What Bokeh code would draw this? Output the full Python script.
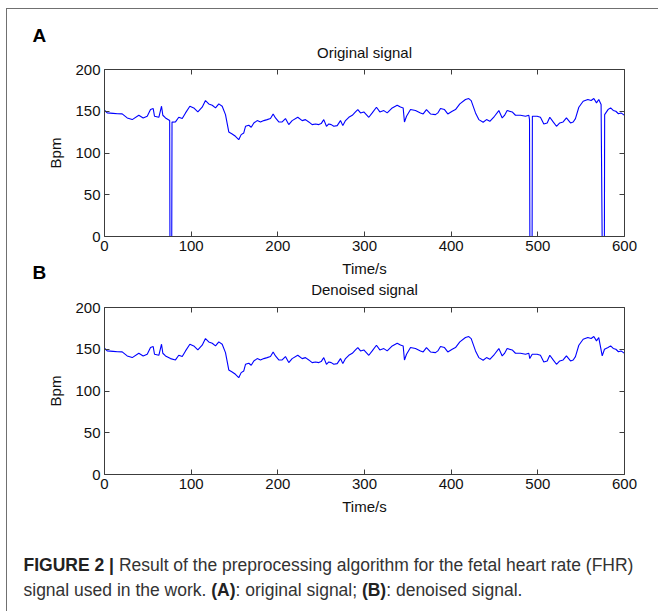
from bokeh.plotting import figure
from bokeh.models import Range1d, LinearAxis, FixedTicker
from bokeh.embed import file_html
from bokeh.resources import INLINE
from bokeh.core.properties import value

# ---------------- data ----------------
den_t = [0, 3.1, 10, 15, 20.4, 26.2, 32, 39.6, 44.6, 49.3, 53.1, 56.2, 57.7, 62.7, 65.8, 67.3,
         70.4, 76.2, 81.9, 85.7, 89.7, 93.5, 98.5, 103, 107.7, 112.7, 116.5, 120.3, 124.3, 128.1,
         131.9, 135.8, 139.6, 143.4, 147.3, 151.1, 154.9, 157.7, 160.7, 162.7, 166.5, 169.3, 172.3,
         176.2, 180, 183.8, 187.7, 191.5, 194.6, 197.3, 201.1, 205, 208.8, 212.6, 216.5, 223, 228.1,
         231.9, 235.7, 239.6, 243.5, 247.3, 250, 253, 256.1, 258.8, 261.6, 264.6, 268.5, 272.3, 275,
         278.1, 281.9, 285.9, 289.6, 292.3, 295.4, 299.2, 305, 308.9, 313.8, 317.7, 322.3, 326.2, 332,
         337.7, 341.5, 344.6, 346.1, 348.5, 353.1, 358.8, 364.6, 367.7, 371.5, 376.1, 381.9, 384.6,
         387.7, 392.3, 396.1, 401.2, 405, 410, 416.5, 420.3, 423.1, 428.1, 431.9, 436.9, 440.8, 444.6,
         450, 455, 458.9, 461.5, 464.6, 470.4, 474.2, 480, 485.8, 489.6, 490.7, 493.5, 499.2, 503,
         506.9, 510.8, 513.8, 517.7, 521.5, 525.3, 529.2, 533, 537.7, 540.8, 543.4, 547.3, 552.3,
         557.7, 561.5, 564.6, 567.7, 570.3, 574.3, 576.9, 581, 584, 587, 590, 593, 596, 600]
den_v = [151.2, 148, 147.5, 147, 146.8, 142, 140, 145.2, 142, 144, 152, 153.2, 144, 142.8, 156, 145.2,
         142, 138.8, 137.2, 142.8, 141.2, 148, 156, 154, 149.2, 154.8, 162.8, 158.8, 157.2, 154,
         158.8, 156, 146, 125.2, 122.8, 120, 116, 122, 124, 132, 133.2, 130.8, 136,
         138.8, 137.2, 138.8, 140, 141.2, 146.8, 142, 137.2, 137.2, 141.2, 134, 138.8, 142.8, 138.8,
         140, 137.2, 134, 134.8, 134, 135.2, 140, 132, 134.8, 134, 132, 132.8, 138.8, 132.8,
         138.8, 142.8, 145.2, 149.2, 152, 148, 149.2, 142.8, 148, 154.8, 149.2, 150.8, 148, 154,
         157.2, 155, 154, 137.2, 144, 152, 150.8, 148, 146.8, 152, 146.8, 146, 148,
         153.2, 152, 146.8, 150, 152, 158.8, 164, 165.2, 162.8, 148, 140, 136.8, 140, 138,
         144, 150.8, 142, 145, 150.8, 149.2, 145.2, 145.2, 144, 145.2, 138.8, 144, 144, 142.8,
         134.8, 136, 142.8, 137.2, 132, 136, 137.2, 142, 136, 137.2, 141.2, 154.8, 162,
         164, 162.8, 165.2, 160, 164, 142, 150, 152, 154, 151, 150, 147, 148, 145]

orig_t = [0, 3.1, 10, 15, 20.4, 26.2, 32, 39.6, 44.6, 49.3, 53.1, 56.2, 57.7, 62.7, 65.8, 67.3,
          70.4, 75.2, 75.5, 77.6, 77.9, 81.9, 85.7, 89.7, 93.5, 98.5, 103, 107.7, 112.7, 116.5, 120.3,
          124.3, 128.1, 131.9, 135.8, 139.6, 143.4, 147.3, 151.1, 154.9, 157.7, 160.7, 162.7, 166.5,
          169.3, 172.3, 176.2, 180, 183.8, 187.7, 191.5, 194.6, 197.3, 201.1, 205, 208.8, 212.6, 216.5,
          223, 228.1, 231.9, 235.7, 239.6, 243.5, 247.3, 250, 253, 256.1, 258.8, 261.6, 264.6, 268.5,
          272.3, 275, 278.1, 281.9, 285.9, 289.6, 292.3, 295.4, 299.2, 305, 308.9, 313.8, 317.7, 322.3,
          326.2, 332, 337.7, 341.5, 344.6, 346.1, 348.5, 353.1, 358.8, 364.6, 367.7, 371.5, 376.1,
          381.9, 384.6, 387.7, 392.3, 396.1, 401.2, 405, 410, 416.5, 420.3, 423.1, 428.1, 431.9, 436.9,
          440.8, 444.6, 450, 455, 458.9, 461.5, 464.6, 470.4, 474.2, 480, 485.8, 489.6, 490.4, 490.8,
          493.4, 493.7, 499.2, 503, 506.9, 510.8, 513.8, 517.7, 521.5, 525.3, 529.2, 533, 537.7, 540.8,
          543.4, 547.3, 552.3, 557.7, 561.5, 564.6, 567.7, 570.3, 573, 574.2, 576.8, 577.1, 581, 584,
          587, 590, 593, 596, 600]
orig_v = [151.2, 148, 147.5, 147, 146.8, 142, 140, 145.2, 142, 144, 152, 153.2, 144, 142.8, 156, 145.2,
          142, 139, 0, 0, 137, 137.2, 142.8, 141.2, 148, 156, 154, 149.2, 154.8, 162.8, 158.8,
          157.2, 154, 158.8, 156, 146, 125.2, 122.8, 120, 116, 122, 124, 132, 133.2,
          130.8, 136, 138.8, 137.2, 138.8, 140, 141.2, 146.8, 142, 137.2, 137.2, 141.2, 134, 138.8,
          142.8, 138.8, 140, 137.2, 134, 134.8, 134, 135.2, 140, 132, 134.8, 134, 132, 132.8,
          138.8, 132.8, 138.8, 142.8, 145.2, 149.2, 152, 148, 149.2, 142.8, 148, 154.8, 149.2, 150.8,
          148, 154, 157.2, 155, 154, 137.2, 144, 152, 150.8, 148, 146.8, 152, 146.8,
          146, 148, 153.2, 152, 146.8, 150, 152, 158.8, 164, 165.2, 162.8, 148, 140, 136.8,
          140, 138, 144, 150.8, 142, 145, 150.8, 149.2, 145.2, 145.2, 144, 145.2, 140, 0,
          0, 144, 144, 142.8, 134.8, 136, 142.8, 137.2, 132, 136, 137.2, 142, 136, 137.2,
          141.2, 154.8, 162, 164, 162.8, 165.2, 160, 164, 158, 0, 0, 146, 152, 154,
          151, 150, 147, 148, 145]

x_ticks = [0, 100, 200, 300, 400, 500, 600]
y_ticks = [0, 50, 100, 150, 200]
panel_titles = ["Original signal", "Denoised signal"]
panel_letters = ["A", "B"]
x_label = "Time/s"
y_label = "Bpm"

cap_bold_text = ["FIGURE 2 |", "(A)", "(B)"]
cap_reg_text = ["Result of the preprocessing algorithm for the fetal heart rate (FHR)",
                "signal used in the work.", ": original signal;", ": denoised signal."]

# ---------------- styling ----------------
FONT = "Liberation Sans"
AX = "#3c3c3c"
TXT = "#111111"
W = 652          # canvas width of every block (page x = canvas x + 7)
EDGE = "1px solid #707070"
SIDE_STYLE = {"margin-left": "6px", "border-left": EDGE}


def text_block(height, top=False):
    f = figure(width=W, height=height, x_range=Range1d(0, W), y_range=Range1d(height, 0),
               output_backend="svg", toolbar_location=None,
               min_border_left=0, min_border_right=0, min_border_top=0, min_border_bottom=0,
               x_axis_location=None, y_axis_location=None, title_location=None,
               outline_line_color=None)
    f.grid.visible = False
    st = dict(SIDE_STYLE)
    if top:
        st.update({"margin-top": "8px", "border-top": EDGE})
    f.styles = st
    return f


def panel(t, v, height, top, bottom, with_xlabel):
    p = figure(width=W, height=height, output_backend="svg", toolbar_location=None,
               x_range=Range1d(0, 600), y_range=Range1d(0, 200), title_location=None,
               min_border_left=97, min_border_right=35,
               min_border_top=top, min_border_bottom=bottom,
               outline_line_color=None)
    p.styles = dict(SIDE_STYLE)
    p.line(t, v, line_color="#0000ff", line_width=1.1)
    p.xgrid.visible = False
    p.ygrid.visible = False
    right = LinearAxis()
    top_ax = LinearAxis()
    p.add_layout(right, "right")
    p.add_layout(top_ax, "above")
    bottom_ax = p.below[0]
    left_ax = p.left[0]
    for ax in (bottom_ax, top_ax):
        ax.ticker = FixedTicker(ticks=x_ticks)
    for ax in (left_ax, right):
        ax.ticker = FixedTicker(ticks=y_ticks)
    for ax in (bottom_ax, top_ax, left_ax, right):
        ax.axis_line_color = AX
        ax.major_tick_line_color = AX
        ax.major_tick_in = 5
        ax.major_tick_out = 0
        ax.minor_tick_line_color = None
        ax.major_label_text_font = FONT
        ax.major_label_text_font_size = "15px"
        ax.major_label_text_color = TXT
        ax.major_label_standoff = 4
    # box sides: ticks only, no labels drawn
    for ax in (top_ax, right):
        ax.major_label_text_font_size = "0px"
        ax.major_label_text_color = None
        ax.major_label_standoff = 0
    left_ax.axis_label = y_label
    axes = [left_ax]
    if with_xlabel:
        bottom_ax.axis_label = x_label
        axes.append(bottom_ax)
    for ax in axes:
        ax.axis_label_text_font = FONT
        ax.axis_label_text_font_size = "15px"
        ax.axis_label_text_font_style = "normal"
        ax.axis_label_text_color = TXT
    bottom_ax.axis_label_standoff = 6
    left_ax.axis_label_standoff = 8
    return p


# header: page rows 9..62
head = text_block(53, top=True)
head.text(x=[25], y=[25.5], text=[panel_letters[0]], text_font=value(FONT), text_font_size="19px",
          text_font_style="bold", text_color="#000000", text_baseline="alphabetic")
head.text(x=[357], y=[42.5], text=[panel_titles[0]], text_font=value(FONT), text_font_size="15px",
          text_color=TXT, text_align="center", text_baseline="alphabetic")

# panel A: page rows 62..259, frame rows 70..237
pA = panel(orig_t, orig_v, 197, 8, 22, False)

# strip: page rows 259..300 (x label of A, letter B, title of B)
mid = text_block(41)
mid.text(x=[357], y=[9.5], text=[x_label], text_font=value(FONT), text_font_size="15px",
         text_color=TXT, text_align="center", text_baseline="alphabetic")
mid.text(x=[25], y=[13.5], text=[panel_letters[1]], text_font=value(FONT), text_font_size="19px",
         text_font_style="bold", text_color="#000000", text_baseline="alphabetic")
mid.text(x=[357], y=[31], text=[panel_titles[1]], text_font=value(FONT), text_font_size="15px",
         text_color=TXT, text_align="center", text_baseline="alphabetic")

# panel B: page rows 300..520, frame rows 308..475
pB = panel(den_t, den_v, 220, 8, 45, True)

# caption: page rows 520..612
cap = text_block(92)
CS = "17.5px"
cap.text(x=[16, 203.7, 354.4], y=[45.5, 70.5, 70.5], text=cap_bold_text,
         text_font=value(FONT), text_font_size=CS, text_font_style="bold",
         text_color="#222222", text_baseline="alphabetic")
cap.text(x=[111.4, 16, 228, 378.7], y=[45.5, 70.5, 70.5, 70.5], text=cap_reg_text,
         text_font=value(FONT), text_font_size=CS, text_color="#333333",
         text_baseline="alphabetic")

open("out.html", "w").write(file_html([head, pA, mid, pB, cap], INLINE))
